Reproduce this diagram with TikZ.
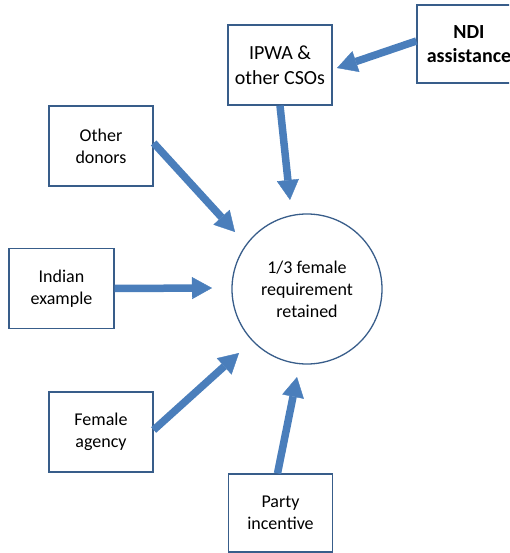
\documentclass[tikz,border=0pt]{standalone}
\usepackage{fontspec}
\setmainfont{Carlito}
\usetikzlibrary{arrows.meta}
\definecolor{arrblue}{RGB}{74,126,187}
\definecolor{boxblue}{RGB}{56,93,138}
\begin{document}
\begin{tikzpicture}[x=1pt,y=-1pt,
  box/.style={draw=boxblue,line width=1.3pt,minimum width=104pt,minimum height=80pt,
    align=center,inner sep=0pt,font=\fontsize{18}{22}\selectfont},
  bigtext/.style={font=\fontsize{20}{24.5}\selectfont},
  arr/.style={draw=arrblue,line width=7.5pt,
    -{Triangle[width=22pt,length=20pt,line width=0.4pt]}}]
\useasboundingbox (0,0) rectangle (509,553);
\clip (0,0) rectangle (509,553);
\node[box,bigtext] (ipwa) at (280,65) {IPWA \&\\other CSOs};
\node[box,minimum height=78pt,font=\fontsize{20}{24.5}\selectfont\bfseries] (ndi) at (469,44) {NDI\\assistance};
\node[box] (donors) at (101,146) {Other\\donors};
\node[box,minimum width=105pt] (indian) at (61.5,288.5) {Indian\\example};
\node[box] (female) at (101,432) {Female\\agency};
\node[box,minimum height=78pt] (party) at (280.5,513) {Party\\incentive};
\node[draw=boxblue,line width=1.3pt,circle,minimum size=150pt,inner sep=0pt,align=center,
  font=\fontsize{18}{22}\selectfont] (goal) at (307,289) {1/3 female\\requirement\\retained};
\coordinate (tndi) at (337,68);
\coordinate (tipwa) at (290,200);
\coordinate (tdon) at (235,232);
\coordinate (tind) at (212,288);
\coordinate (tfem) at (239,353);
\coordinate (tpar) at (297,377);
\draw[arr] ([yshift=3pt]ndi.west) -- (tndi);
\draw[arr] (ipwa.south) -- (tipwa);
\draw[arr] ([yshift=3pt]donors.east) -- (tdon);
\draw[arr] (indian.east) -- (tind);
\draw[arr] ([yshift=2pt]female.east) -- (tfem);
\draw[arr] ([xshift=-3pt]party.north) -- (tpar);
\end{tikzpicture}
\end{document}
